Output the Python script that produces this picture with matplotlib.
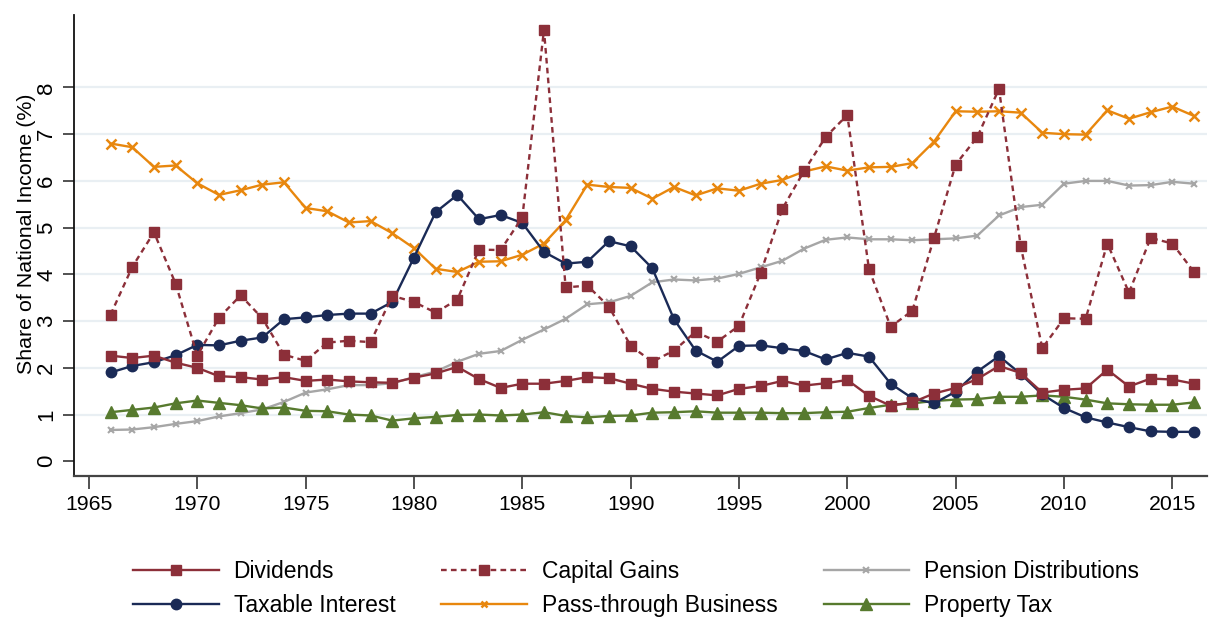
import matplotlib
matplotlib.use("Agg")
import matplotlib.pyplot as plt
from matplotlib.lines import Line2D

plt.rcParams['font.family'] = ['Liberation Sans', 'DejaVu Sans']

years = list(range(1966, 2017))

dividends = [2.26, 2.21, 2.26, 2.11, 2.00, 1.82, 1.80, 1.75, 1.80, 1.72,
             1.75, 1.71, 1.69, 1.68, 1.79, 1.88, 2.02, 1.76, 1.57, 1.66,
             1.66, 1.72, 1.80, 1.78, 1.66, 1.55, 1.49, 1.45, 1.41, 1.55,
             1.61, 1.72, 1.62, 1.67, 1.74, 1.40, 1.19, 1.26, 1.45, 1.57,
             1.76, 2.04, 1.89, 1.47, 1.53, 1.56, 1.96, 1.60, 1.77, 1.75, 1.66]

capital_gains = [3.14, 4.16, 4.90, 3.80, 2.26, 3.07, 3.55, 3.06, 2.28, 2.15,
                 2.54, 2.58, 2.55, 3.54, 3.41, 3.18, 3.46, 4.53, 4.52, 5.22,
                 9.23, 3.72, 3.76, 3.31, 2.47, 2.13, 2.37, 2.77, 2.56, 2.90,
                 4.03, 5.40, 6.21, 6.94, 7.41, 4.11, 2.88, 3.22, 4.78, 6.35,
                 6.94, 7.97, 4.61, 2.42, 3.06, 3.05, 4.66, 3.61, 4.78, 4.66, 4.05]

pension = [0.67, 0.68, 0.73, 0.80, 0.86, 0.96, 1.03, 1.11, 1.27, 1.47,
           1.54, 1.63, 1.63, 1.67, 1.80, 1.92, 2.13, 2.30, 2.36, 2.60,
           2.82, 3.05, 3.36, 3.40, 3.54, 3.83, 3.89, 3.87, 3.91, 4.01,
           4.15, 4.29, 4.55, 4.74, 4.79, 4.75, 4.75, 4.73, 4.75, 4.77,
           4.83, 5.26, 5.44, 5.49, 5.94, 6.00, 6.00, 5.90, 5.91, 5.98, 5.94]

taxable_interest = [1.90, 2.04, 2.12, 2.27, 2.49, 2.48, 2.58, 2.65, 3.04, 3.08,
                    3.13, 3.16, 3.16, 3.41, 4.36, 5.33, 5.70, 5.18, 5.27, 5.10,
                    4.48, 4.23, 4.27, 4.71, 4.60, 4.13, 3.04, 2.37, 2.13, 2.47,
                    2.48, 2.42, 2.36, 2.18, 2.32, 2.24, 1.66, 1.35, 1.24, 1.49,
                    1.92, 2.25, 1.87, 1.43, 1.14, 0.94, 0.83, 0.73, 0.64, 0.63, 0.63]

pass_through = [6.80, 6.72, 6.30, 6.33, 5.95, 5.70, 5.80, 5.92, 5.97, 5.42,
                5.35, 5.11, 5.14, 4.88, 4.56, 4.12, 4.05, 4.27, 4.28, 4.42,
                4.66, 5.16, 5.92, 5.87, 5.85, 5.62, 5.87, 5.69, 5.84, 5.79,
                5.94, 6.02, 6.20, 6.31, 6.22, 6.29, 6.30, 6.38, 6.84, 7.49,
                7.48, 7.49, 7.46, 7.03, 7.00, 6.99, 7.51, 7.33, 7.47, 7.59, 7.39]

property_tax = [1.05, 1.10, 1.15, 1.24, 1.30, 1.25, 1.20, 1.13, 1.15, 1.08,
                1.07, 1.00, 0.98, 0.87, 0.92, 0.95, 0.99, 1.00, 0.98, 1.00,
                1.05, 0.97, 0.94, 0.97, 0.98, 1.04, 1.05, 1.07, 1.04, 1.04,
                1.04, 1.03, 1.03, 1.05, 1.06, 1.14, 1.21, 1.24, 1.29, 1.32,
                1.33, 1.38, 1.38, 1.41, 1.38, 1.32, 1.24, 1.22, 1.21, 1.21, 1.26]

xticks = [1965, 1970, 1975, 1980, 1985, 1990, 1995, 2000, 2005, 2010, 2015]
yticks = [0, 1, 2, 3, 4, 5, 6, 7, 8]

MAROON = '#8c2f39'
NAVY = '#1a2a56'
ORANGE = '#e8870e'
GRAY = '#a6a6a6'
GREEN = '#577a2e'

fig = plt.figure(figsize=(12.1, 6.18), dpi=100)
ax = fig.add_axes([74/1210, 1-476/618, (1207-74)/1210, (476-15)/618])

for y in yticks[1:]:
    ax.axhline(y, color='#e9eff3', lw=1.6, zorder=0)

lw = 1.7
ax.plot(years, pension, color=GRAY, lw=lw, marker='x', ms=4.5, mew=1.5, label='Pension Distributions', zorder=2)
ax.plot(years, property_tax, color=GREEN, lw=lw, marker='^', ms=8, label='Property Tax', zorder=3)
ax.plot(years, pass_through, color=ORANGE, lw=lw, marker='x', ms=7, mew=1.8, label='Pass-through Business', zorder=3)
ax.plot(years, taxable_interest, color=NAVY, lw=lw, marker='o', ms=7.5, label='Taxable Interest', zorder=4)
ax.plot(years, capital_gains, color=MAROON, lw=lw, ls=(0, (2.4, 1.8)), marker='s', ms=7.5, label='Capital Gains', zorder=4)
ax.plot(years, dividends, color=MAROON, lw=lw, marker='s', ms=7.5, label='Dividends', zorder=5)

ax.set_xlim(1964.31, 2016.6)
ax.set_ylim(-0.315, 9.55)
ax.set_xticks(xticks)
ax.set_yticks(yticks)
ax.tick_params(axis='x', length=9, width=1.2, pad=5, labelsize=15.3, color='#333333')
ax.tick_params(axis='y', length=8, width=1.2, pad=4, labelsize=16, labelrotation=90, color='#333333')
for lab in ax.get_yticklabels():
    lab.set_va('center')
ax.set_ylabel('Share of National Income (%)', fontsize=15.4)
ax.yaxis.set_label_coords(-0.0335, 0.525)

for s in ['top', 'right']:
    ax.spines[s].set_visible(False)
ax.spines['left'].set_color('#111111')
ax.spines['bottom'].set_color('#444444')
ax.spines['left'].set_linewidth(1.3)
ax.spines['bottom'].set_linewidth(1.6)

handles = [
    Line2D([], [], color=MAROON, lw=lw, marker='s', ms=7.5),
    Line2D([], [], color=NAVY, lw=lw, marker='o', ms=7.5),
    Line2D([], [], color=MAROON, lw=lw, ls=(0, (2.4, 1.8)), marker='s', ms=7.5),
    Line2D([], [], color=ORANGE, lw=lw, marker='x', ms=5, mew=1.8),
    Line2D([], [], color=GRAY, lw=lw, marker='x', ms=4, mew=1.5),
    Line2D([], [], color=GREEN, lw=lw, marker='^', ms=8),
]
labels = ['Dividends', 'Taxable Interest', 'Capital Gains',
          'Pass-through Business', 'Pension Distributions', 'Property Tax']
fig.legend(handles, labels, ncol=3, loc='center', bbox_to_anchor=(636/1210, 1-588.5/618),
           frameon=False, fontsize=16.5, handlelength=3.75, handletextpad=0.65,
           columnspacing=2.0, labelspacing=0.47, borderpad=0, borderaxespad=0)

fig.savefig('out.png', dpi=100)
